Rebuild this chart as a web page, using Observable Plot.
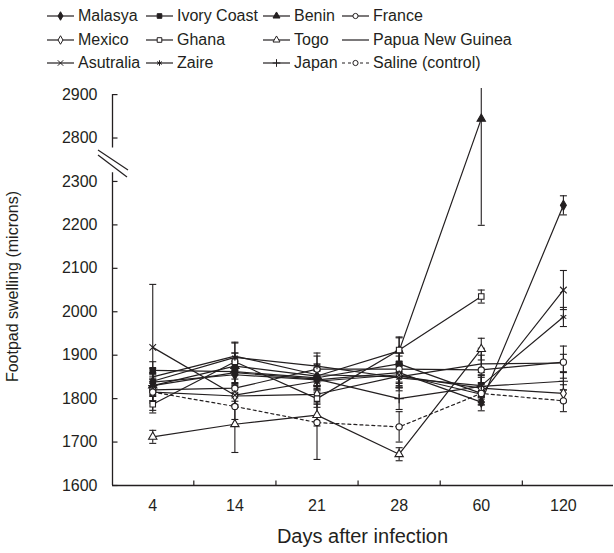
<!DOCTYPE html>
<html><head><meta charset="utf-8">
<script src="https://cdn.jsdelivr.net/npm/d3@7"></script>
<script src="https://cdn.jsdelivr.net/npm/@observablehq/plot@0.6"></script>
<style>
body{margin:0;background:#fff;font-family:"Liberation Sans",Arial,sans-serif;color:#231f20;}
#wrap{position:relative;width:614px;height:553px;}
#legend{position:absolute;left:0;top:0;width:614px;height:80px;font-size:16px;}
.item{position:absolute;display:flex;align-items:center;white-space:nowrap;height:20px;}
.item svg{overflow:visible;flex:none;}
.item span{margin-left:4px;}
</style></head><body><div id="wrap"><div id="legend"></div></div>
<script>
// ---- data ----
const days = ["4", "14", "21", "28", "60", "120"];
const seriesNames = ["Malasya", "Ivory Coast", "Benin", "France", "Mexico", "Ghana", "Togo", "Papua New Guinea", "Asutralia", "Zaire", "Japan", "Saline (control)"];
const malasya   = [1838, 1855, 1843, 1860, 1792, 2245];
const ivoryCoast= [1865, 1862, 1848, 1880, 1812];
const benin     = [1830, 1875, 1852, 1910, 2844];
const france    = [1820, 1824, 1868, 1868, 1866, 1884];
const mexico    = [1815, 1806, 1810, 1852, 1824, 1812];
const ghana     = [1787, 1885, 1800, 1912, 2035];
const togo      = [1712, 1741, 1762, 1672, 1914];
const png       = [1850, 1898, 1855, 1850, 1880, 1882];
const asutralia = [1918, 1808, 1840, 1855, 1810, 2050];
const zaire     = [1840, 1895, 1875, 1848, 1830, 1988];
const japan     = [1830, 1860, 1845, 1800, 1828, 1840];
const saline    = [1815, 1782, 1745, 1735, 1812, 1795];
// error bar half-lengths
const errMalasya   = [20, 25, 20, 25, 20, 22];
const errIvoryCoast= [20, 25, 20, 30, 25];
const errBenin     = [25, 30, 25, 30, 645];
const errFrance    = [25, 30, 30, 30, 50, 37];
const errMexico    = [20, 20, 20, 25, 25, 20];
const errGhana     = [20, 20, 20, 30, 15];
const errTogo      = [15, 65, 25, 15, 25];
const errPng       = [20, 30, 25, 25, 20, 20];
const errAsutralia = [145, 25, 25, 25, 25, 45];
const errZaire     = [20, 35, 30, 30, 25, 22];
const errJapan     = [20, 25, 25, 25, 25, 20];
const errSaline    = [25, 30, 85, 35, 20, 25];
const yTickValues = [1600, 1700, 1800, 1900, 2000, 2100, 2200, 2300, 2800, 2900];
const xTitle = "Days after infection";
const yTitle = "Footpad swelling (microns)";

const values = [malasya, ivoryCoast, benin, france, mexico, ghana, togo, png, asutralia, zaire, japan, saline];
const errs = [errMalasya, errIvoryCoast, errBenin, errFrance, errMexico, errGhana, errTogo, errPng, errAsutralia, errZaire, errJapan, errSaline];

// ---- axis break (values above the break shift down by GAP) ----
const GAP = 400, BREAK_AT = 2350, BREAK_LOW_END = 2320, BREAK_HIGH_START = 2777;
const yt = v => v > BREAK_AT ? v - GAP : v;
const ytInv = t => t > BREAK_AT - GAP / 8 ? t + GAP : t;

// ---- styles ----
const style = {
  "Malasya": {symbol: "diamond", fill: "#231f20"},
  "Ivory Coast": {symbol: "square", fill: "#231f20"},
  "Benin": {symbol: "triangle", fill: "#231f20"},
  "France": {symbol: "circle", fill: "white"},
  "Mexico": {symbol: "diamond", fill: "white"},
  "Ghana": {symbol: "square", fill: "white"},
  "Togo": {symbol: "triangle", fill: "white"},
  "Papua New Guinea": {symbol: null},
  "Asutralia": {symbol: "times", fill: "none"},
  "Zaire": {symbol: "asterisk", fill: "none"},
  "Japan": {symbol: "plus", fill: "none"},
  "Saline (control)": {symbol: "circle", fill: "white", dash: "3,3"}
};
const INK = "#231f20";
const R = 3.1;

const rows = [];
seriesNames.forEach((s, k) => values[k].forEach((v, i) => rows.push({series: s, day: i, value: v, err: errs[k][i]})));

const capSymbol = {draw(ctx) { ctx.moveTo(-3.5, 0); ctx.lineTo(3.5, 0); }};
const yTickSymbol = {draw(ctx) { ctx.moveTo(0, 0); ctx.lineTo(5, 0); }};
const xTickSymbol = {draw(ctx) { ctx.moveTo(0, 0); ctx.lineTo(0, -5); }};

const xMin = -0.49, xMax = 5.61;
const marks = [
  Plot.ruleY([1600], {stroke: INK, strokeWidth: 1.3}),
  Plot.ruleX([xMin], {y1: 1600, y2: BREAK_LOW_END, stroke: INK, strokeWidth: 1.3}),
  Plot.ruleX([xMin], {y1: yt(BREAK_HIGH_START), y2: yt(2900), stroke: INK, strokeWidth: 1.3}),
  Plot.dot(yTickValues.map(yt), {x: () => xMin, y: d => d, symbol: yTickSymbol, stroke: INK, strokeWidth: 1.2}),
  Plot.dot(d3.range(days.length - 1).map(i => i + 0.5), {x: d => d, y: () => 1600, symbol: xTickSymbol, stroke: INK, strokeWidth: 1.2}),
  // error bars
  Plot.ruleX(rows, {x: "day", y1: d => yt(d.value - d.err), y2: d => yt(d.value + d.err), stroke: INK, strokeWidth: 1.1, clip: true}),
  Plot.dot(rows, {x: "day", y: d => yt(d.value - d.err), symbol: capSymbol, stroke: INK, strokeWidth: 1.1, clip: true}),
  Plot.dot(rows, {x: "day", y: d => yt(d.value + d.err), symbol: capSymbol, stroke: INK, strokeWidth: 1.1, clip: true}),
  // lines
  Plot.line(rows.filter(d => !style[d.series].dash), {x: "day", y: d => yt(d.value), z: "series", stroke: INK, strokeWidth: 1.2}),
  Plot.line(rows.filter(d => style[d.series].dash), {x: "day", y: d => yt(d.value), z: "series", stroke: INK, strokeWidth: 1.2, strokeDasharray: "3,3"})
];
seriesNames.forEach(s => {
  const st = style[s];
  if (!st.symbol) return;
  marks.push(Plot.dot(rows.filter(d => d.series === s), {x: "day", y: d => yt(d.value), symbol: st.symbol, r: R,
    fill: st.fill, stroke: INK, strokeWidth: 1.1}));
});

const plot = Plot.plot({
  width: 614, height: 553,
  marginTop: 88, marginBottom: 68, marginLeft: 112, marginRight: 1,
  style: {fontSize: "16px", fontFamily: "'Liberation Sans', Arial, sans-serif", color: INK, background: "white"},
  x: {type: "linear", domain: [xMin, xMax], ticks: d3.range(days.length), tickFormat: i => days[i], tickSize: 0, tickPadding: 14,
      label: null, line: false},
  y: {type: "linear", domain: [1600, 2514], ticks: yTickValues.map(yt), tickFormat: t => String(ytInv(t)), tickSize: 0, tickPadding: 15,
      label: null, line: false},
  marks
});
document.getElementById("wrap").appendChild(plot);

const xs = plot.scale("x"), ys = plot.scale("y");
const svgSel = d3.select(plot);
// axis titles
const xMid = (xs.range[0] + xs.range[1]) / 2, yMid = (ys.range[0] + ys.range[1]) / 2;
svgSel.append("text").attr("x", xMid).attr("y", ys.range[0] + 58).attr("text-anchor", "middle")
  .attr("fill", INK).style("font-size", "20px").text(xTitle);
svgSel.append("text").attr("transform", `translate(${xs.range[0] - 94},${yMid}) rotate(-90)`).attr("text-anchor", "middle")
  .attr("fill", INK).style("font-size", "16px").text(yTitle);

// axis break marks
const cx = xs.apply(xMin), cy = ys.apply(BREAK_AT - 2);
const g = svgSel.append("g").attr("stroke", INK).attr("stroke-width", 1.2);
g.append("line").attr("x1", cx - 14).attr("y1", cy - 10).attr("x2", cx + 16).attr("y2", cy + 10);
g.append("line").attr("x1", cx - 14).attr("y1", cy - 5).attr("x2", cx + 15).attr("y2", cy + 17);

// legend
const legendLayout = [
  ["Malasya", 78, 16], ["Ivory Coast", 177, 16], ["Benin", 294, 16], ["France", 373, 16],
  ["Mexico", 78, 39.5], ["Ghana", 177, 39.5], ["Togo", 294, 39.5], ["Papua New Guinea", 373, 39.5],
  ["Asutralia", 78, 63], ["Zaire", 177, 63], ["Japan", 294, 63], ["Saline (control)", 373, 63]
];
const symMap = {diamond: d3.symbolDiamond, square: d3.symbolSquare, triangle: d3.symbolTriangle, circle: d3.symbolCircle,
  times: d3.symbolTimes, asterisk: d3.symbolAsterisk, plus: d3.symbolPlus};
const legend = d3.select("#legend");
legendLayout.forEach(([name, tx, cyL]) => {
  const st = style[name];
  const item = legend.append("div").attr("class", "item").style("left", (tx - 31) + "px").style("top", (cyL - 10) + "px");
  const svg = item.append("svg").attr("width", 27).attr("height", 20);
  svg.append("line").attr("x1", 0).attr("x2", 27).attr("y1", 10).attr("y2", 10).attr("stroke", INK).attr("stroke-width", 1.2)
    .attr("stroke-dasharray", st.dash || null);
  if (st.symbol) {
    svg.append("path").attr("transform", "translate(13.5,10)")
      .attr("d", d3.symbol(symMap[st.symbol], R * R * Math.PI * 0.7)())
      .attr("fill", st.fill).attr("stroke", INK).attr("stroke-width", 1);
  }
  item.append("span").text(name);
});
</script></body></html>
